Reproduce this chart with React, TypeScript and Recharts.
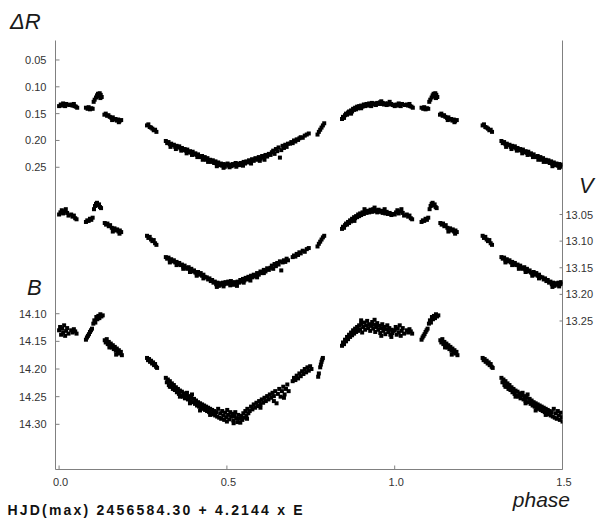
import React from 'react';
import { ScatterChart, Scatter, XAxis, YAxis } from 'recharts';

// ---- axis ticks ----
const xTicks = [0, 0.5, 1.0, 1.5];
const rTicks = [0.05, 0.1, 0.15, 0.2, 0.25];
const vTicks = [13.05, 13.1, 13.15, 13.2, 13.25];
const bTicks = [14.1, 14.15, 14.2, 14.25, 14.3];

// ---- axis domains ----
const xDomain = [-0.0107, 1.5];
const rDomain = [0.0137, 0.8133];
const vDomain = [12.7232, 13.5289];
const bDomain = [13.606, 14.3817];

// ---- observations (phase, value) over one cycle ----
const deltaR: [number, number][] = [
  [0.000, 0.136], [0.005, 0.133], [0.010, 0.135], [0.014, 0.134], [0.018, 0.136], [0.022, 0.132],
  [0.030, 0.134], [0.036, 0.133], [0.040, 0.135], [0.046, 0.136], [0.050, 0.137], [0.054, 0.139],
  [0.080, 0.139], [0.085, 0.141], [0.088, 0.138], [0.092, 0.142], [0.096, 0.140], [0.100, 0.141],
  [0.103, 0.128], [0.106, 0.124], [0.110, 0.120], [0.113, 0.116], [0.116, 0.113], [0.119, 0.118],
  [0.121, 0.112], [0.124, 0.115], [0.127, 0.119], [0.123, 0.121],
  [0.135, 0.152], [0.139, 0.150], [0.143, 0.154], [0.147, 0.153], [0.151, 0.156], [0.156, 0.158],
  [0.160, 0.157], [0.164, 0.161], [0.168, 0.160], [0.172, 0.163], [0.176, 0.161], [0.180, 0.164], [0.185, 0.162],
  [0.262, 0.172], [0.266, 0.170], [0.270, 0.175], [0.274, 0.176], [0.278, 0.178], [0.282, 0.181], [0.286, 0.180], [0.290, 0.184],
  [0.318, 0.201], [0.322, 0.205], [0.326, 0.203], [0.330, 0.207], [0.334, 0.206], [0.338, 0.209], [0.342, 0.208],
  [0.346, 0.212], [0.350, 0.210], [0.354, 0.213], [0.358, 0.211], [0.362, 0.215], [0.366, 0.214], [0.370, 0.218],
  [0.374, 0.216], [0.378, 0.219], [0.382, 0.217], [0.386, 0.222], [0.390, 0.220], [0.394, 0.223], [0.398, 0.221],
  [0.402, 0.226], [0.406, 0.224], [0.410, 0.227], [0.414, 0.226], [0.418, 0.230], [0.422, 0.231], [0.426, 0.229],
  [0.430, 0.234], [0.434, 0.231], [0.438, 0.236], [0.442, 0.233], [0.446, 0.238], [0.450, 0.236], [0.454, 0.240],
  [0.458, 0.237], [0.462, 0.242], [0.466, 0.239], [0.470, 0.244], [0.474, 0.241], [0.478, 0.246], [0.482, 0.243],
  [0.486, 0.247], [0.490, 0.244], [0.494, 0.249], [0.498, 0.245], [0.502, 0.243], [0.506, 0.247], [0.510, 0.245],
  [0.514, 0.248], [0.518, 0.244], [0.522, 0.246], [0.526, 0.242], [0.530, 0.246], [0.534, 0.243], [0.538, 0.246],
  [0.542, 0.242], [0.546, 0.244], [0.550, 0.240], [0.554, 0.243], [0.558, 0.239], [0.562, 0.241], [0.566, 0.237],
  [0.570, 0.239], [0.575, 0.235], [0.580, 0.238], [0.585, 0.233], [0.590, 0.236], [0.595, 0.231], [0.600, 0.234],
  [0.605, 0.229], [0.610, 0.232], [0.615, 0.227], [0.620, 0.230], [0.625, 0.225],
  [0.630, 0.227], [0.634, 0.222], [0.638, 0.219], [0.642, 0.225], [0.646, 0.216], [0.650, 0.220], [0.654, 0.213],
  [0.658, 0.232], [0.662, 0.218], [0.666, 0.210], [0.670, 0.214], [0.674, 0.208], [0.678, 0.212], [0.682, 0.206],
  [0.688, 0.206], [0.692, 0.203], [0.696, 0.205], [0.700, 0.200], [0.704, 0.202], [0.708, 0.198], [0.712, 0.199],
  [0.716, 0.196], [0.720, 0.194], [0.726, 0.195], [0.732, 0.191], [0.738, 0.189], [0.744, 0.187],
  [0.770, 0.189], [0.774, 0.184], [0.778, 0.180], [0.782, 0.176], [0.786, 0.172], [0.790, 0.168],
  [0.843, 0.160], [0.846, 0.156], [0.849, 0.158], [0.852, 0.153], [0.855, 0.150], [0.858, 0.152], [0.861, 0.148],
  [0.864, 0.146], [0.867, 0.149], [0.870, 0.144], [0.873, 0.146], [0.876, 0.141], [0.879, 0.143], [0.882, 0.139],
  [0.885, 0.142], [0.888, 0.137], [0.891, 0.140], [0.894, 0.136], [0.897, 0.138], [0.900, 0.135], [0.904, 0.137],
  [0.908, 0.133], [0.912, 0.136], [0.916, 0.132], [0.920, 0.135], [0.924, 0.131], [0.928, 0.134], [0.932, 0.130],
  [0.936, 0.133], [0.940, 0.131], [0.944, 0.134], [0.948, 0.130], [0.952, 0.132], [0.956, 0.129], [0.960, 0.132],
  [0.964, 0.130], [0.968, 0.133], [0.972, 0.131], [0.976, 0.134], [0.980, 0.131], [0.985, 0.133], [0.990, 0.132], [0.995, 0.134],
  [0.332, 0.212], [0.348, 0.216], [0.364, 0.219], [0.380, 0.224], [0.396, 0.227], [0.412, 0.231], [0.428, 0.236],
  [0.444, 0.240], [0.470, 0.248], [0.490, 0.251], [0.508, 0.250], [0.528, 0.249], [0.548, 0.247], [0.572, 0.243],
  [0.598, 0.238], [0.612, 0.236], [0.870, 0.150], [0.900, 0.140], [0.930, 0.136], [0.960, 0.127], [0.985, 0.128],
  [0.158, 0.162], [0.178, 0.166], [0.012, 0.131], [0.044, 0.132],
];

const vMag: [number, number][] = [
  [0.000, 13.050], [0.004, 13.046], [0.008, 13.042], [0.012, 13.048], [0.016, 13.044], [0.020, 13.040], [0.024, 13.047], [0.028, 13.052],
  [0.036, 13.050], [0.040, 13.054], [0.044, 13.052], [0.048, 13.057], [0.052, 13.059],
  [0.080, 13.064], [0.084, 13.061], [0.088, 13.062], [0.092, 13.058], [0.096, 13.060], [0.100, 13.056],
  [0.104, 13.040], [0.107, 13.034], [0.110, 13.030], [0.113, 13.028], [0.116, 13.033], [0.119, 13.031], [0.122, 13.036], [0.125, 13.038],
  [0.136, 13.066], [0.140, 13.069], [0.144, 13.067], [0.148, 13.072], [0.152, 13.070], [0.157, 13.075], [0.161, 13.078],
  [0.165, 13.076], [0.169, 13.080], [0.173, 13.078], [0.177, 13.082], [0.181, 13.080], [0.185, 13.083],
  [0.262, 13.090], [0.266, 13.094], [0.270, 13.092], [0.274, 13.097], [0.278, 13.100], [0.282, 13.098], [0.286, 13.104], [0.290, 13.107],
  [0.318, 13.130], [0.322, 13.133], [0.326, 13.131], [0.330, 13.136], [0.334, 13.134], [0.338, 13.138], [0.342, 13.136],
  [0.346, 13.140], [0.350, 13.139], [0.354, 13.143], [0.358, 13.141], [0.362, 13.145], [0.366, 13.144], [0.370, 13.148],
  [0.374, 13.146], [0.378, 13.150], [0.382, 13.152], [0.386, 13.149], [0.390, 13.154], [0.394, 13.152], [0.398, 13.157],
  [0.402, 13.155], [0.406, 13.159], [0.410, 13.161], [0.414, 13.158], [0.418, 13.163], [0.422, 13.160], [0.426, 13.165],
  [0.430, 13.163], [0.434, 13.167],
  [0.440, 13.168], [0.444, 13.172], [0.448, 13.170], [0.452, 13.175], [0.456, 13.173], [0.460, 13.178], [0.464, 13.176],
  [0.468, 13.181], [0.472, 13.178], [0.476, 13.184], [0.480, 13.179], [0.484, 13.182], [0.488, 13.178], [0.492, 13.181],
  [0.496, 13.177], [0.500, 13.180], [0.504, 13.176], [0.508, 13.179], [0.512, 13.175], [0.516, 13.178], [0.520, 13.182],
  [0.524, 13.177], [0.528, 13.180], [0.532, 13.176], [0.536, 13.178], [0.540, 13.173], [0.544, 13.176], [0.548, 13.171],
  [0.552, 13.174], [0.556, 13.169], [0.560, 13.172], [0.564, 13.167], [0.568, 13.170], [0.572, 13.165], [0.576, 13.168],
  [0.580, 13.163], [0.585, 13.166], [0.590, 13.160], [0.595, 13.163], [0.600, 13.157], [0.605, 13.160], [0.610, 13.154],
  [0.615, 13.157], [0.620, 13.151], [0.625, 13.154],
  [0.630, 13.150], [0.634, 13.146], [0.638, 13.152], [0.642, 13.143], [0.646, 13.147], [0.650, 13.141], [0.654, 13.144],
  [0.658, 13.138], [0.662, 13.155], [0.666, 13.140], [0.670, 13.136], [0.674, 13.139], [0.678, 13.133], [0.682, 13.136],
  [0.696, 13.130], [0.700, 13.127], [0.704, 13.129], [0.708, 13.124], [0.712, 13.126], [0.716, 13.121], [0.720, 13.123],
  [0.726, 13.118], [0.732, 13.120], [0.738, 13.115], [0.744, 13.113],
  [0.770, 13.110], [0.774, 13.105], [0.778, 13.101], [0.782, 13.097], [0.786, 13.093], [0.790, 13.090],
  [0.843, 13.077], [0.846, 13.073], [0.849, 13.075], [0.852, 13.070], [0.855, 13.067], [0.858, 13.069], [0.861, 13.064],
  [0.864, 13.066], [0.867, 13.061], [0.870, 13.063], [0.873, 13.058], [0.876, 13.060], [0.879, 13.055], [0.882, 13.057],
  [0.885, 13.053], [0.888, 13.055], [0.891, 13.050], [0.894, 13.053], [0.897, 13.048], [0.900, 13.051], [0.904, 13.046],
  [0.908, 13.049], [0.912, 13.044], [0.916, 13.047], [0.920, 13.043], [0.924, 13.046], [0.928, 13.041], [0.932, 13.045],
  [0.936, 13.040], [0.940, 13.044], [0.944, 13.042], [0.948, 13.046], [0.952, 13.041], [0.956, 13.045], [0.960, 13.043],
  [0.964, 13.047], [0.968, 13.044], [0.972, 13.048], [0.976, 13.045], [0.980, 13.049], [0.985, 13.047], [0.990, 13.051], [0.995, 13.049],
  [0.330, 13.140], [0.350, 13.145], [0.370, 13.152], [0.390, 13.158], [0.410, 13.165], [0.430, 13.170], [0.470, 13.186],
  [0.490, 13.185], [0.510, 13.183], [0.530, 13.184], [0.550, 13.178], [0.570, 13.174], [0.590, 13.168], [0.610, 13.160],
  [0.880, 13.062], [0.910, 13.040], [0.940, 13.037], [0.970, 13.040], [0.160, 13.082], [0.180, 13.086],
];

const bMag: [number, number][] = [
  [0.000, 14.130], [0.003, 14.124], [0.006, 14.138], [0.009, 14.127], [0.012, 14.134], [0.015, 14.121], [0.018, 14.140],
  [0.021, 14.131], [0.024, 14.126], [0.028, 14.136],
  [0.036, 14.130], [0.040, 14.134], [0.044, 14.128], [0.048, 14.132], [0.052, 14.136],
  [0.080, 14.147], [0.083, 14.143], [0.086, 14.140], [0.089, 14.137], [0.092, 14.133], [0.095, 14.130], [0.098, 14.127],
  [0.102, 14.118], [0.105, 14.112], [0.108, 14.116], [0.111, 14.106], [0.114, 14.110], [0.117, 14.104], [0.120, 14.108],
  [0.123, 14.101], [0.126, 14.105], [0.130, 14.103],
  [0.136, 14.148], [0.139, 14.152], [0.142, 14.146], [0.145, 14.155], [0.148, 14.151], [0.151, 14.158], [0.154, 14.154],
  [0.157, 14.161], [0.160, 14.157], [0.163, 14.164], [0.166, 14.160], [0.169, 14.167], [0.172, 14.163], [0.175, 14.170],
  [0.178, 14.166], [0.181, 14.172], [0.184, 14.169], [0.187, 14.175],
  [0.262, 14.180], [0.265, 14.184], [0.268, 14.182], [0.271, 14.187], [0.274, 14.185], [0.277, 14.190], [0.280, 14.188],
  [0.283, 14.193], [0.286, 14.191], [0.289, 14.196], [0.292, 14.198],
  [0.318, 14.216], [0.321, 14.224], [0.324, 14.219], [0.327, 14.229], [0.330, 14.222], [0.333, 14.232], [0.336, 14.226],
  [0.339, 14.236], [0.342, 14.229], [0.345, 14.238], [0.348, 14.233], [0.351, 14.242], [0.354, 14.236], [0.357, 14.245],
  [0.360, 14.239], [0.363, 14.248], [0.366, 14.241], [0.369, 14.250], [0.372, 14.244], [0.375, 14.253], [0.378, 14.247],
  [0.381, 14.243], [0.384, 14.255], [0.387, 14.249], [0.390, 14.258], [0.393, 14.252], [0.396, 14.246], [0.399, 14.260],
  [0.402, 14.254], [0.405, 14.263], [0.408, 14.257], [0.411, 14.266], [0.414, 14.260], [0.417, 14.268], [0.420, 14.262],
  [0.423, 14.270], [0.426, 14.264], [0.429, 14.272], [0.432, 14.266], [0.435, 14.274], [0.438, 14.268], [0.441, 14.276],
  [0.444, 14.270], [0.447, 14.278], [0.450, 14.272], [0.453, 14.280], [0.456, 14.274],
  [0.459, 14.282], [0.462, 14.276], [0.465, 14.284], [0.468, 14.278], [0.471, 14.286], [0.474, 14.272], [0.477, 14.288],
  [0.480, 14.280], [0.483, 14.290], [0.486, 14.276], [0.489, 14.284], [0.492, 14.292], [0.495, 14.279], [0.498, 14.287],
  [0.501, 14.274], [0.504, 14.283], [0.507, 14.291], [0.510, 14.278], [0.513, 14.286], [0.516, 14.281], [0.519, 14.293],
  [0.522, 14.285], [0.525, 14.278], [0.528, 14.289], [0.531, 14.296], [0.534, 14.283], [0.537, 14.290], [0.540, 14.297],
  [0.543, 14.285], [0.546, 14.292], [0.549, 14.280], [0.552, 14.288], [0.555, 14.276], [0.558, 14.284], [0.561, 14.272], [0.564, 14.280],
  [0.568, 14.276], [0.572, 14.268], [0.576, 14.273], [0.580, 14.264], [0.584, 14.270], [0.588, 14.261], [0.592, 14.267],
  [0.596, 14.258], [0.600, 14.264], [0.604, 14.255], [0.608, 14.261], [0.612, 14.252], [0.616, 14.258], [0.620, 14.249],
  [0.624, 14.255], [0.628, 14.246], [0.632, 14.252], [0.636, 14.243], [0.640, 14.249], [0.644, 14.240], [0.648, 14.262],
  [0.652, 14.245], [0.656, 14.236], [0.660, 14.250], [0.664, 14.240], [0.668, 14.232], [0.672, 14.246], [0.676, 14.236],
  [0.680, 14.228], [0.684, 14.240],
  [0.696, 14.222], [0.700, 14.216], [0.704, 14.220], [0.708, 14.212], [0.712, 14.217], [0.716, 14.208], [0.720, 14.213],
  [0.724, 14.204], [0.728, 14.209], [0.732, 14.200], [0.736, 14.206], [0.740, 14.197], [0.744, 14.203], [0.748, 14.195], [0.752, 14.200],
  [0.772, 14.214], [0.774, 14.208], [0.778, 14.197], [0.780, 14.192], [0.782, 14.187], [0.784, 14.183], [0.786, 14.180],
  [0.843, 14.158], [0.846, 14.152], [0.849, 14.155], [0.852, 14.147], [0.855, 14.150], [0.858, 14.142], [0.861, 14.146],
  [0.864, 14.138], [0.867, 14.142], [0.870, 14.134], [0.873, 14.139], [0.876, 14.130], [0.879, 14.136], [0.882, 14.127],
  [0.885, 14.133], [0.888, 14.124], [0.891, 14.131], [0.894, 14.121], [0.897, 14.128], [0.900, 14.118], [0.903, 14.134],
  [0.906, 14.124], [0.909, 14.116], [0.912, 14.129], [0.915, 14.121], [0.918, 14.113], [0.921, 14.126], [0.924, 14.119],
  [0.927, 14.131], [0.930, 14.122], [0.933, 14.115], [0.936, 14.127], [0.939, 14.120], [0.942, 14.133], [0.945, 14.124],
  [0.948, 14.117], [0.951, 14.129], [0.954, 14.122], [0.957, 14.135], [0.960, 14.126], [0.963, 14.119], [0.966, 14.131],
  [0.969, 14.124], [0.972, 14.137], [0.975, 14.128], [0.978, 14.121], [0.981, 14.133], [0.984, 14.126], [0.987, 14.138],
  [0.990, 14.129], [0.993, 14.135], [0.996, 14.131],
  [0.330, 14.232], [0.360, 14.250], [0.390, 14.262], [0.420, 14.275], [0.450, 14.283], [0.500, 14.295], [0.520, 14.298],
  [0.560, 14.290], [0.600, 14.270], [0.640, 14.258], [0.670, 14.252], [0.900, 14.112], [0.940, 14.111], [0.960, 14.140],
  [0.990, 14.142], [0.170, 14.174], [0.150, 14.161],
];

// the plot repeats the first half cycle after phase 1.0
const fold = (pts: [number, number][]) =>
  pts
    .concat(pts.filter((p) => p[0] <= 0.5).map((p) => [p[0] + 1, p[1]] as [number, number]))
    .map(([x, y]) => ({ x, y }));

const rData = fold(deltaR);
const vData = fold(vMag);
const bData = fold(bMag);

const FONT = 'Liberation Sans, Arial, sans-serif';
const AXIS = '#808080';
const LABEL = '#333333';

const Square = (props: any) => {
  const { cx, cy } = props;
  if (cx == null || cy == null) return null;
  return <rect x={cx - 2} y={cy - 2} width={4} height={4} fill="#000" />;
};

// shift lets a tick drawn by an axis of a different width line up with the shared axis line
const LeftTick = (props: any) => {
  const { x, y, payload, shift = 0 } = props;
  const ax = x + shift;
  return (
    <g>
      <line x1={ax} x2={ax + 4} y1={y} y2={y} stroke={AXIS} />
      <text x={ax - 9} y={y + 4} textAnchor="end" fontSize={11} fill={LABEL} fontFamily={FONT}>
        {Number(payload.value).toFixed(2)}
      </text>
    </g>
  );
};

const RightTick = (props: any) => {
  const { x, y, payload } = props;
  return (
    <g>
      <line x1={x - 3} x2={x} y1={y} y2={y} stroke={AXIS} />
      <text x={x + 3} y={y + 4} textAnchor="start" fontSize={11} fill={LABEL} fontFamily={FONT}>
        {Number(payload.value).toFixed(2)}
      </text>
    </g>
  );
};

const BottomTick = (props: any) => {
  const { x, y, payload } = props;
  return (
    <g>
      <line x1={x} x2={x} y1={y - 4} y2={y} stroke={AXIS} />
      <text x={x + 1.5} y={y + 16} textAnchor="middle" fontSize={11} fill={LABEL} fontFamily={FONT}>
        {Number(payload.value).toFixed(1)}
      </text>
    </g>
  );
};

export default function App() {
  return (
    <div style={{ position: 'absolute', left: 0, top: 0, width: 601, height: 518, background: '#fff' }}>
      <ScatterChart width={601} height={518} margin={{ top: 40.5, right: 0, bottom: 0, left: 0 }}>
        <XAxis
          dataKey="x"
          type="number"
          domain={xDomain}
          allowDataOverflow
          ticks={xTicks}
          interval={0}
          height={48.5}
          tickSize={0}
          tickMargin={0}
          tickLine={false}
          tick={<BottomTick />}
          axisLine={{ stroke: AXIS }}
        />
        <XAxis
          xAxisId="top"
          orientation="top"
          type="number"
          domain={xDomain}
          allowDataOverflow
          height={0}
          tick={false}
          tickLine={false}
          axisLine={{ stroke: '#000' }}
        />
        <YAxis
          yAxisId="b"
          dataKey="y"
          type="number"
          orientation="left"
          reversed
          domain={bDomain}
          allowDataOverflow
          ticks={bTicks}
          interval={0}
          width={1}
          tickSize={0}
          tickMargin={0}
          tickLine={false}
          tick={<LeftTick />}
          axisLine={{ stroke: AXIS }}
        />
        <YAxis
          yAxisId="r"
          dataKey="y"
          type="number"
          orientation="left"
          reversed
          domain={rDomain}
          allowDataOverflow
          ticks={rTicks}
          interval={0}
          width={54.5}
          tickSize={0}
          tickMargin={0}
          tickLine={false}
          tick={<LeftTick shift={1} />}
          axisLine={false}
        />
        <YAxis
          yAxisId="v"
          dataKey="y"
          type="number"
          orientation="right"
          reversed
          domain={vDomain}
          allowDataOverflow
          ticks={vTicks}
          interval={0}
          width={38.5}
          tickSize={0}
          tickMargin={0}
          tickLine={false}
          tick={<RightTick />}
          axisLine={{ stroke: AXIS }}
        />
        <Scatter data={rData} yAxisId="r" shape={<Square />} isAnimationActive={false} />
        <Scatter data={vData} yAxisId="v" shape={<Square />} isAnimationActive={false} />
        <Scatter data={bData} yAxisId="b" shape={<Square />} isAnimationActive={false} />
      </ScatterChart>
      <svg
        width={601}
        height={518}
        style={{ position: 'absolute', left: 0, top: 0, pointerEvents: 'none' }}
      >
        <text x={10} y={29} fontSize={22} fontStyle="italic" fontFamily={FONT} fill="#1a1a1a">ΔR</text>
        <text x={27} y={295} fontSize={22} fontStyle="italic" fontFamily={FONT} fill="#1a1a1a">B</text>
        <text x={579} y={193} fontSize={22} fontStyle="italic" fontFamily={FONT} fill="#1a1a1a">V</text>
        <text x={570} y={507} textAnchor="end" fontSize={21} fontStyle="italic" fontFamily={FONT} fill="#1a1a1a">phase</text>
        <text x={7.5} y={514.5} fontSize={14} fontWeight="bold" letterSpacing={2.2} fontFamily={FONT} fill="#111">
          HJD(max) 2456584.30 + 4.2144 x E
        </text>
      </svg>
    </div>
  );
}
